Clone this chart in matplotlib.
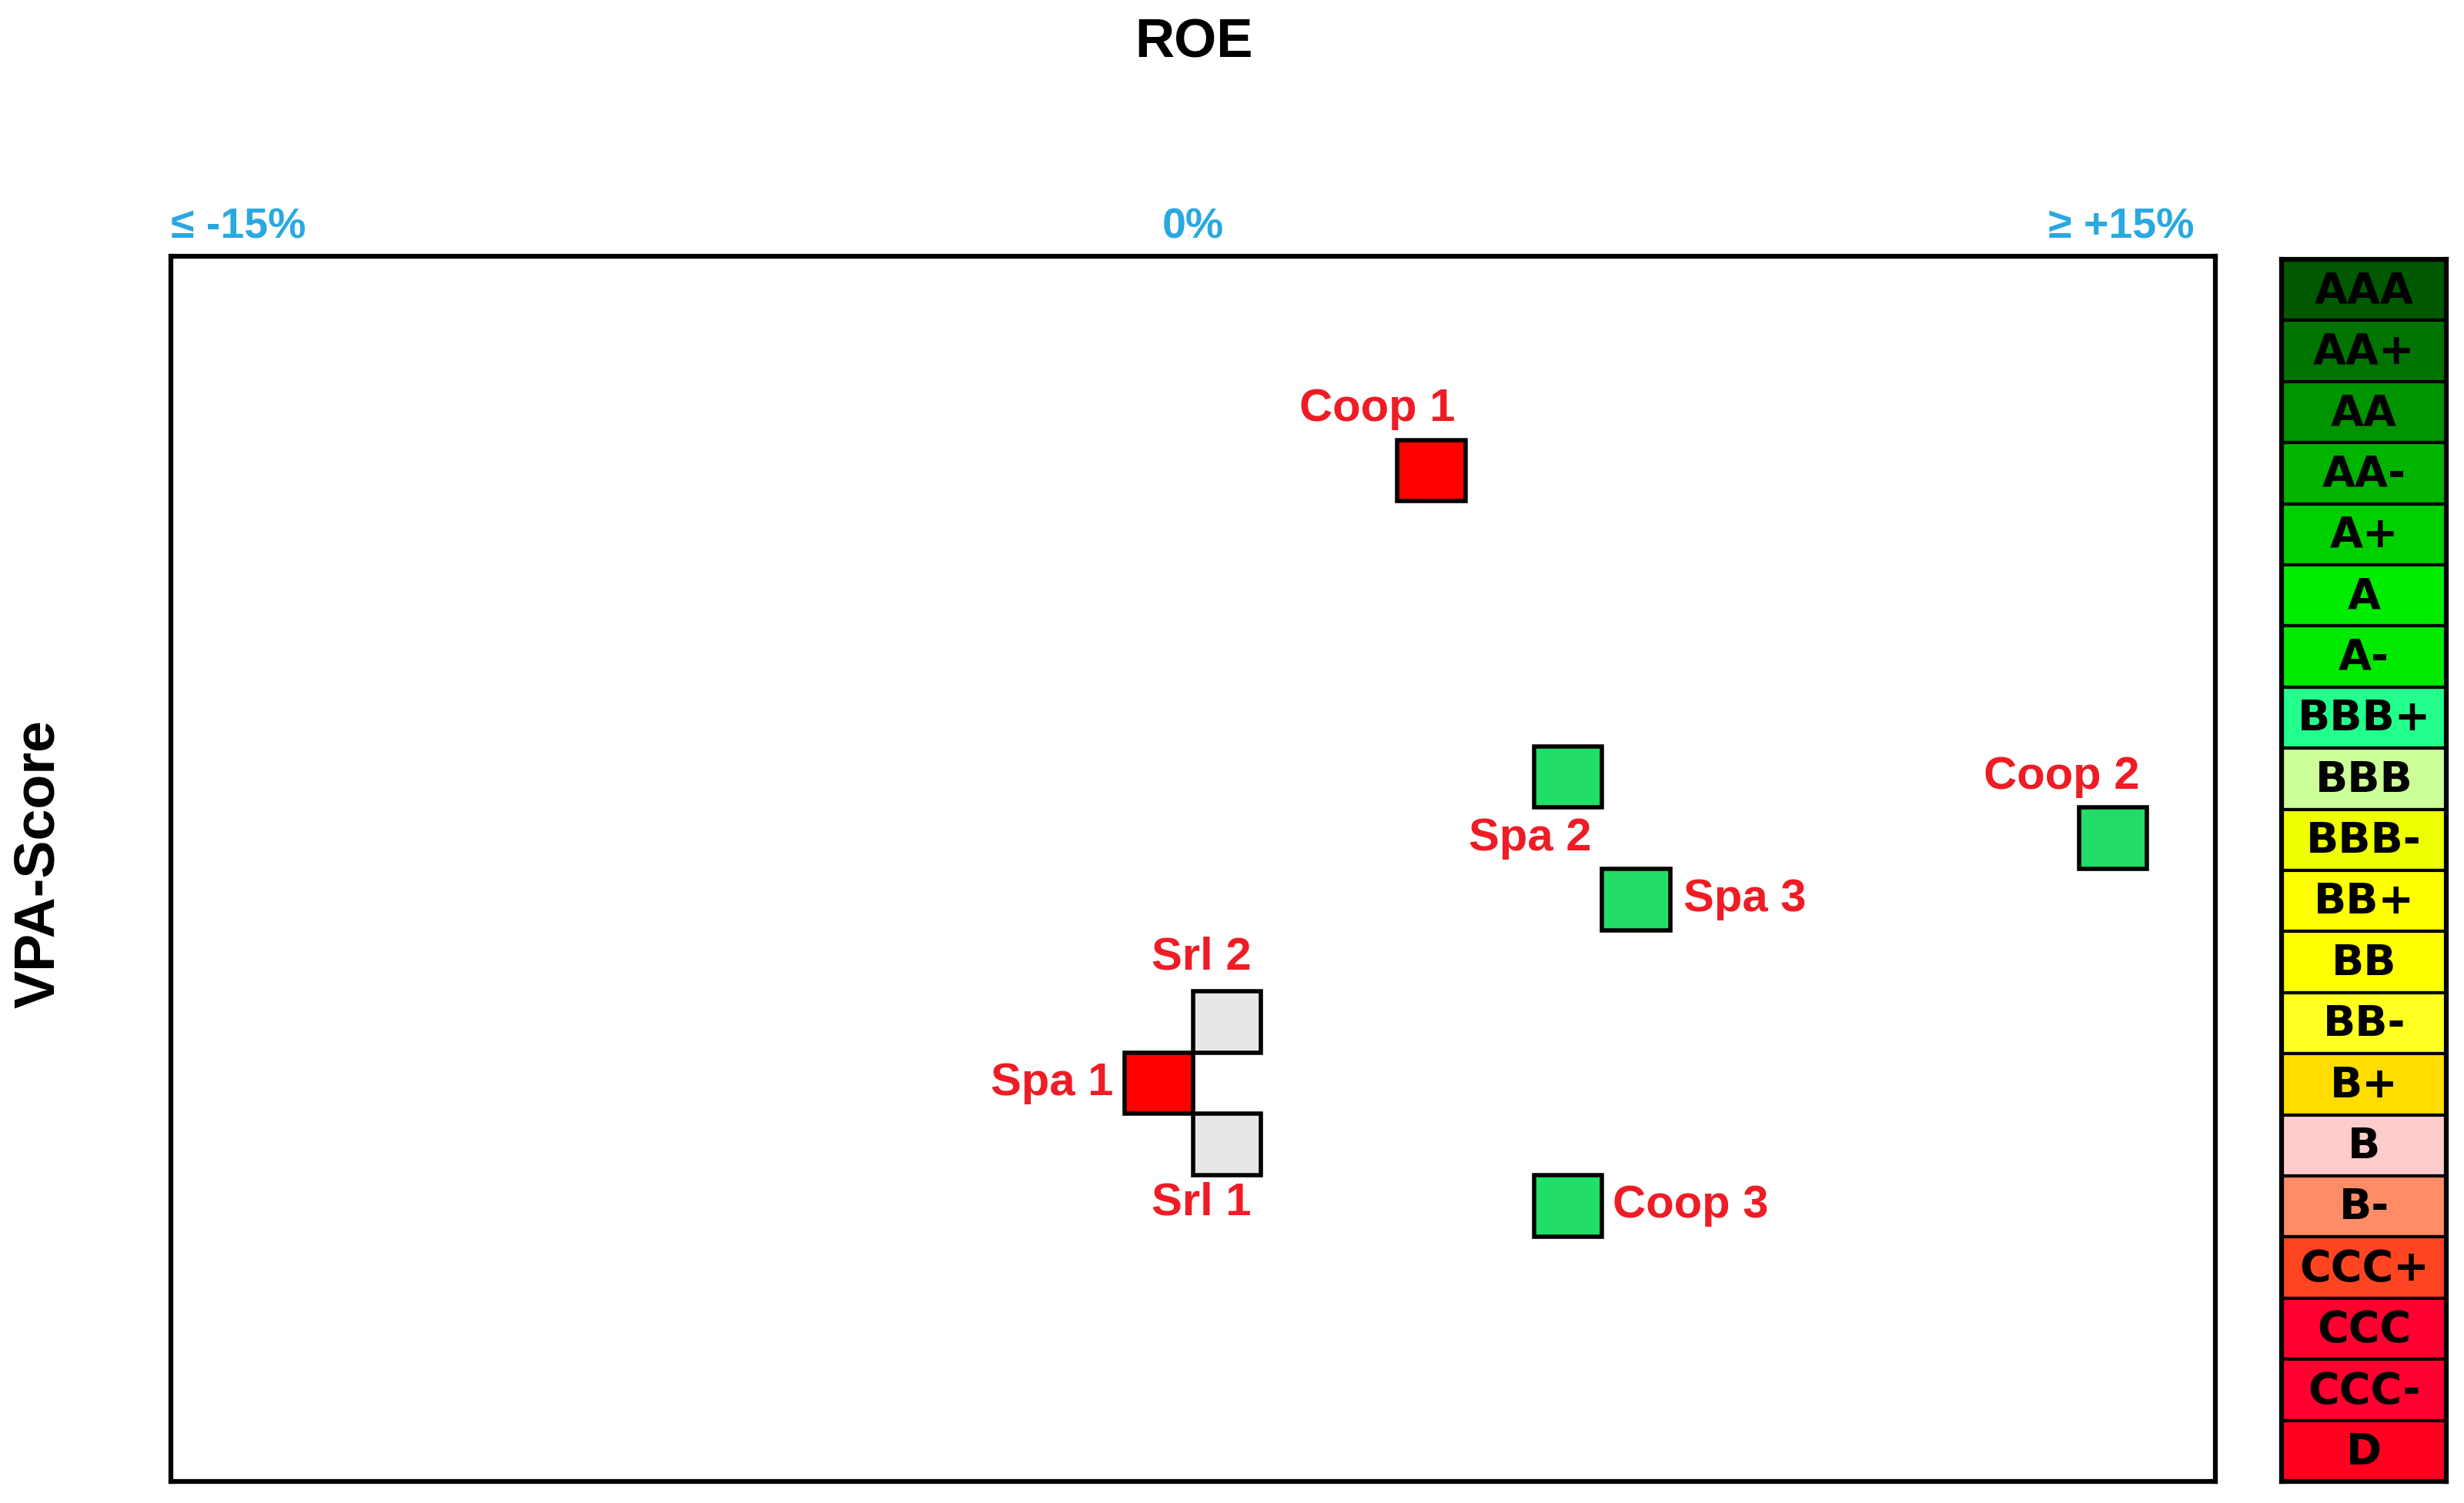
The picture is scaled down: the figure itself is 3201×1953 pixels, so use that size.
import matplotlib
matplotlib.use("Agg")
import matplotlib.pyplot as plt
import matplotlib.transforms as mtrans
from matplotlib.patches import Rectangle

# rating scale, top (best) to bottom (worst)
scale = ["AAA", "AA+", "AA", "AA-", "A+", "A", "A-", "BBB+", "BBB", "BBB-",
         "BB+", "BB", "BB-", "B+", "B", "B-", "CCC+", "CCC", "CCC-", "D"]
scale_colors = ["#005800", "#007400", "#009400", "#00b400", "#00d000", "#00ec00",
                "#00ea00", "#22ff8c", "#ccff99", "#eeff00", "#ffff00", "#ffff00",
                "#ffff22", "#ffdd00", "#ffcccc", "#ff8c66", "#ff4422", "#ff0030",
                "#ff0030", "#ff0020"]

# companies: ROE (%) and VPA-score class
names = ["Coop 1", "Spa 2", "Coop 2", "Spa 3", "Srl 2", "Spa 1", "Srl 1", "Coop 3"]
roe = [3.5, 5.5, 13.5, 6.5, 0.5, -0.5, 0.5, 5.5]
vpa = ["AA-", "BBB", "BBB-", "BB+", "BB-", "B+", "B", "B-"]
fill = ["#ff0000", "#22dd66", "#22dd66", "#22dd66", "#e6e6e6", "#ff0000", "#e6e6e6", "#22dd66"]

xticks = [-15, 0, 15]
xticklabels = ["≤ -15%", "0%", "≥ +15%"]

# label offsets in pixels (layout only)
offsets = {"Coop 1": (-71, 80), "Spa 2": (-49, -80), "Coop 2": (-67, 80),
           "Spa 3": (141, 0), "Srl 2": (-33, 84), "Spa 1": (-139, 0),
           "Srl 1": (-33, -76), "Coop 3": (159, 0)}

fig = plt.figure(figsize=(32.01, 19.53), dpi=100)
ax = fig.add_axes([0.0694, 0.0143, 0.8296, 0.8152])
ax.set_xlim(-15, 15)
ax.set_ylim(len(scale), 0)
for s in ax.spines.values():
    s.set_linewidth(4.5)
    s.set_color("black")
ax.set_yticks([])
ax.xaxis.tick_top()
ax.set_xticks(xticks)
ax.set_xticklabels(xticklabels, color="#2aa8e0", fontsize=40, fontweight="bold",
                   family=["Liberation Sans", "DejaVu Sans"])
ax.tick_params(axis="x", length=0, pad=8)
tl = ax.get_xticklabels()
tl[0].set_ha("left")
tl[2].set_ha("right")
tl[2].set_transform(tl[2].get_transform() + mtrans.ScaledTranslation(-0.27, 0, fig.dpi_scale_trans))

for n, x, r, c in zip(names, roe, vpa, fill):
    yi = scale.index(r)
    ax.add_patch(Rectangle((x - 0.5, yi), 1, 1, facecolor=c, edgecolor="black",
                           linewidth=4, zorder=3))
    ax.annotate(n, (x, yi + 0.5), xytext=offsets[n], textcoords="offset pixels",
                ha="center", va="center", color="#ee1c25", fontsize=43,
                fontweight="bold", family="Liberation Sans")

fig.text(0.4846, 0.971, "ROE", ha="center", va="center", fontsize=51,
         fontweight="bold", family="Liberation Sans")
fig.text(0.016, 0.425, "VPA-Score", ha="center", va="center", rotation=90,
         fontsize=53, fontweight="bold", family="Liberation Sans")

# rating colour bar
lx = fig.add_axes([0.926, 0.0143, 0.0669, 0.8131])
lx.barh(range(len(scale)), 1, height=1, left=0, align="edge", color=scale_colors,
        edgecolor="black", linewidth=3)
lx.set_xlim(0, 1)
lx.set_ylim(len(scale), 0)
lx.set_xticks([])
lx.set_yticks([])
for s in lx.spines.values():
    s.set_linewidth(4.5)
for i, lab in enumerate(scale):
    lx.text(0.5, i + 0.52, lab, ha="center", va="center", fontsize=40,
            fontweight="bold", family="DejaVu Sans", color="black")

fig.savefig("out.png", dpi=100, facecolor="white")
